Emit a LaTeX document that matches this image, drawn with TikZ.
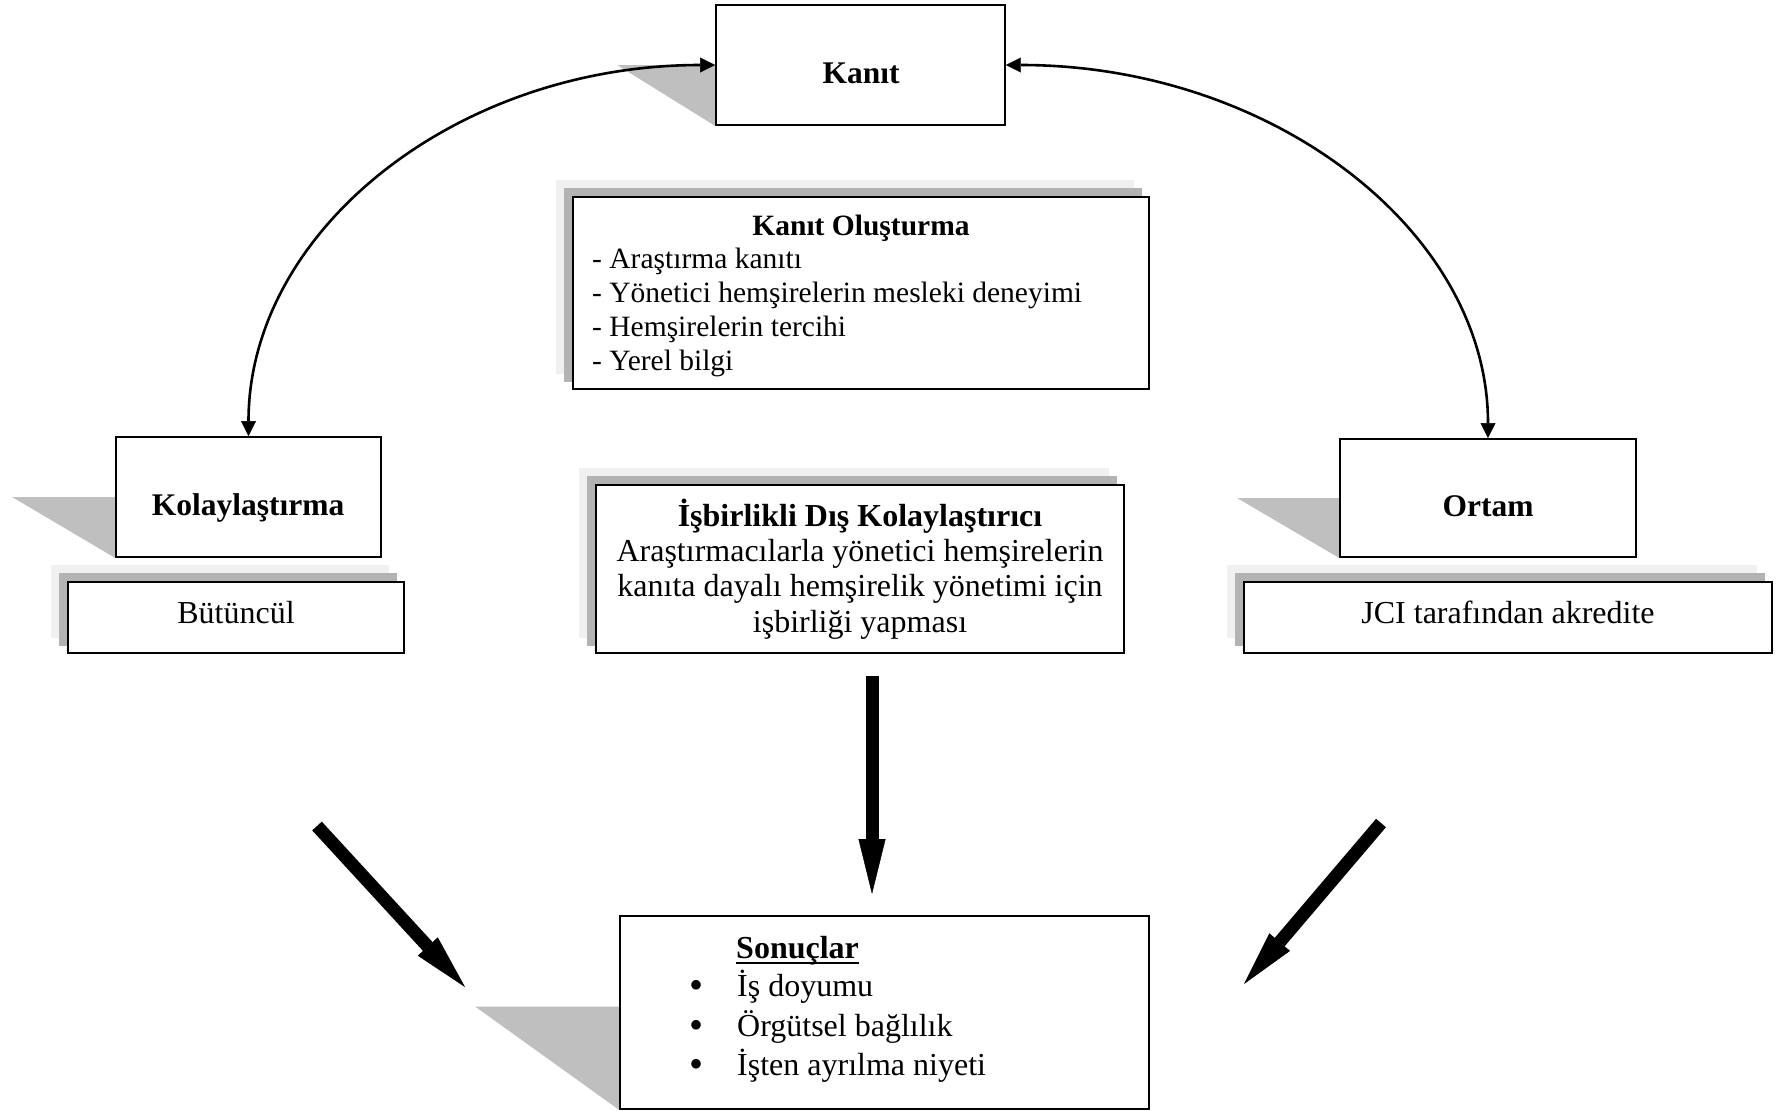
\documentclass[tikz,border=0pt]{standalone}
\usepackage{fontspec}
\setmainfont{Liberation Serif}
\usetikzlibrary{arrows.meta,backgrounds}
\definecolor{shadowdark}{RGB}{179,179,179}
\definecolor{shadowlight}{RGB}{240,240,240}
\definecolor{wedgegray}{RGB}{191,191,191}
\tikzset{
  boxn/.style={rectangle, draw=black, line width=1.8pt, fill=white, inner sep=0pt},
  lbl/.style={inner sep=0pt, font=\bfseries\fontsize{31.5}{36}\selectfont},
  body/.style={inner sep=0pt, font=\fontsize{32}{37}\selectfont},
  bodyb/.style={inner sep=0pt, font=\bfseries\fontsize{32}{37}\selectfont},
  small/.style={inner sep=0pt, font=\fontsize{29.5}{34}\selectfont},
  smallb/.style={inner sep=0pt, font=\bfseries\fontsize{29.5}{34}\selectfont},
  bullet/.style={inner sep=0pt, font=\fontsize{40}{40}\selectfont},
  link/.style={line width=2.6pt,
    {Triangle[length=15pt,width=15pt,line width=0.4pt]}-{Triangle[length=15pt,width=15pt,line width=0.4pt]}},
  bigarrow/.style={line width=13pt, -{Triangle[length=55pt,width=27pt,line width=0.4pt]}},
}
\begin{document}
\begin{tikzpicture}[x=1pt,y=-1pt]
\useasboundingbox (0,0) rectangle (1778,1111);

% boxes
\node[boxn, minimum width=289pt, minimum height=120pt] (kanit) at (860.5,65) {};
\node[boxn, minimum width=265pt, minimum height=120pt] (kol) at (248.5,497) {};
\node[boxn, minimum width=296pt, minimum height=118pt] (ortam) at (1488,498) {};
\node[boxn, minimum width=576pt, minimum height=192pt] (ko) at (861,293) {};
\node[boxn, minimum width=528pt, minimum height=168pt] (isb) at (860,569) {};
\node[boxn, minimum width=336pt, minimum height=71pt] (but) at (236,617.5) {};
\node[boxn, minimum width=528pt, minimum height=71pt] (jci) at (1508,617.5) {};
\node[boxn, minimum width=529pt, minimum height=193pt] (son) at (884.5,1012.5) {};

% shadows behind the boxes
\begin{scope}[on background layer]
  \fill[white] (0,0) rectangle (1778,1111);
  \foreach \b in {ko,isb,but,jci}{
    \fill[shadowlight] ([shift={(-16pt,16pt)}]\b.north west) rectangle ([shift={(-16pt,16pt)}]\b.south east);
    \fill[shadowdark] ([shift={(-8pt,8pt)}]\b.north west) rectangle ([shift={(-8pt,8pt)}]\b.south east);
  }
  \fill[wedgegray] ([xshift=-98pt]kanit.west) -- (kanit.west) -- (kanit.south west) -- cycle;
  \fill[wedgegray] ([xshift=-103pt]kol.west) -- (kol.west) -- (kol.south west) -- cycle;
  \fill[wedgegray] ([xshift=-102pt]ortam.west) -- (ortam.west) -- (ortam.south west) -- cycle;
  \fill[wedgegray] ([xshift=-144pt,yshift=6pt]son.west) -- ([yshift=6pt]son.west) -- (son.south west) -- cycle;
\end{scope}

% main labels
\node[lbl, anchor=base] (kanit-t) at (861,83) {Kanıt};
\node[lbl, anchor=base] (kol-t) at (248,515) {Kolaylaştırma};
\node[lbl, anchor=base] (ortam-t) at (1488,516) {Ortam};
\node[body, anchor=base] (but-t) at (236,623) {Bütüncül};
\node[body, anchor=base] (jci-t) at (1508,623) {JCI tarafından akredite};

% evidence generation
\node[smallb, anchor=base] (ko-t) at (861,235) {Kanıt Oluşturma};
\node[small, anchor=base west] (ko-1) at (592,268) {- Araştırma kanıtı};
\node[small, anchor=base west] (ko-2) at (592,302) {- Yönetici hemşirelerin mesleki deneyimi};
\node[small, anchor=base west] (ko-3) at (592,336) {- Hemşirelerin tercihi};
\node[small, anchor=base west] (ko-4) at (592,370) {- Yerel bilgi};

% collaborative external facilitator
\node[bodyb, anchor=base] (isb-t) at (860,526) {İşbirlikli Dış Kolaylaştırıcı};
\node[body, anchor=base] (isb-1) at (860,561) {Araştırmacılarla yönetici hemşirelerin};
\node[body, anchor=base] (isb-2) at (860,596) {kanıta dayalı hemşirelik yönetimi için};
\node[body, anchor=base] (isb-3) at (860,632) {işbirliği yapması};

% outcomes
\node[bodyb, anchor=base west] (son-t) at (736,958) {Sonuçlar};
\draw[line width=2.4pt] ([yshift=-5pt]son-t.base west) -- ([yshift=-5pt]son-t.base east);
\foreach \y/\t [count=\i] in {996/İş doyumu, 1036/Örgütsel bağlılık, 1075/İşten ayrılma niyeti}{
  \node[bullet, anchor=base] (son-b\i) at (696,\y+2) {•};
  \node[body, anchor=base west] (son-\i) at (737,\y) {\t};
}

% curved links
\draw[link] (kol.north) .. controls ([yshift=206pt]kol.north) and (457,65) .. (kanit.west);
\draw[link] (ortam.north) .. controls ([yshift=207pt]ortam.north) and (1272,65) .. (kanit.east);

% thick arrows towards the outcomes
\coordinate (la-s) at (317,826);
\coordinate (la-e) at (465,987);
\coordinate (ma-s) at (872,676);
\coordinate (ma-e) at (872,894);
\coordinate (ra-s) at (1381,823);
\coordinate (ra-e) at (1244,984);
\draw[bigarrow] (la-s) -- (la-e);
\draw[bigarrow] (ma-s) -- (ma-e);
\draw[bigarrow] (ra-s) -- (ra-e);
\end{tikzpicture}
\end{document}
